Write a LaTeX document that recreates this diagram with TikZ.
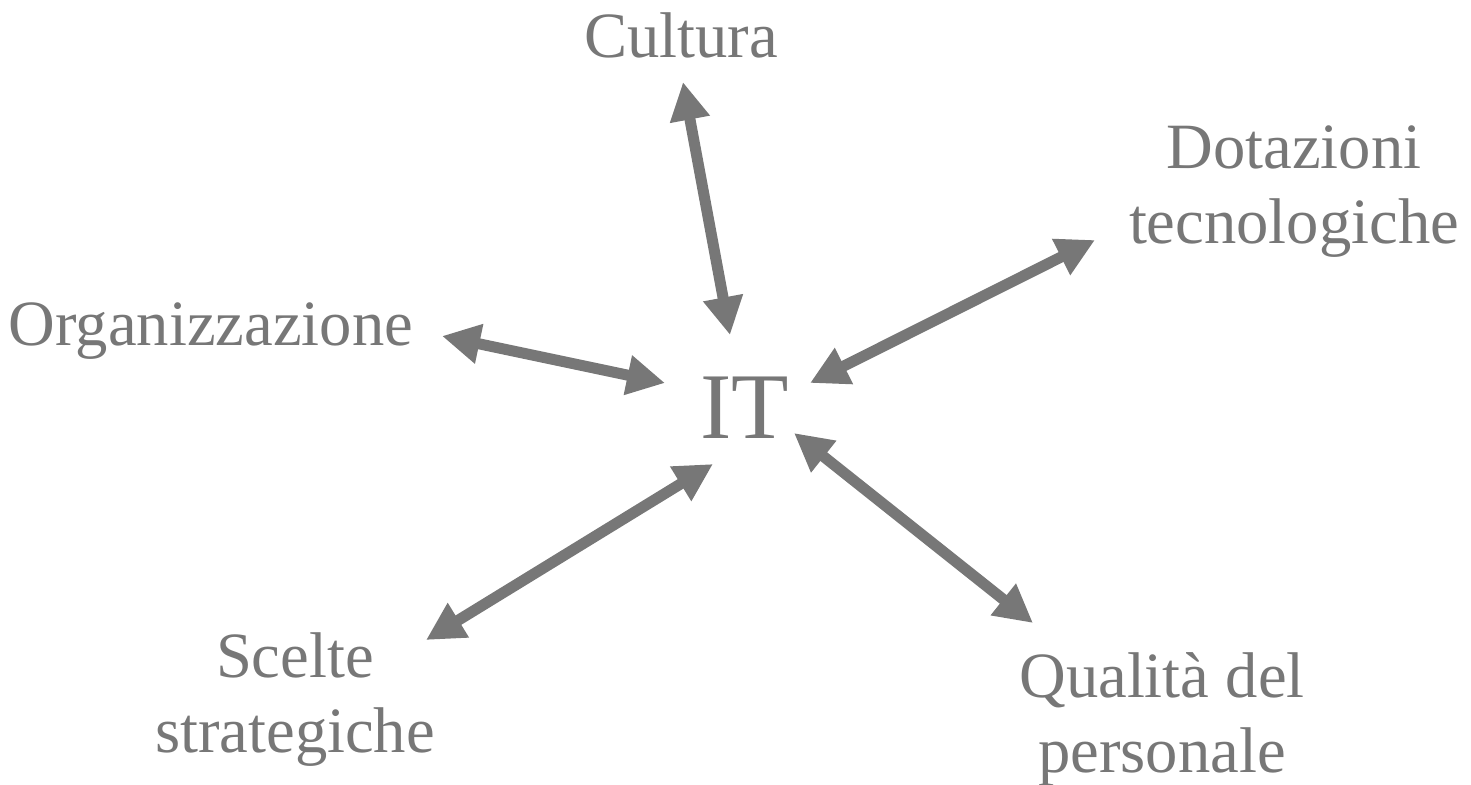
\documentclass[tikz,border=0pt]{standalone}
\usepackage{fontspec}
\setmainfont{Liberation Serif}
\usetikzlibrary{arrows.meta}
\definecolor{ink}{HTML}{777777}
\begin{document}
\begin{tikzpicture}[x=0.5pt,y=-0.5pt,
  lbl/.style={text=ink,inner sep=0pt,align=center,font=\fontsize{32.3}{37.5}\selectfont,anchor=base},
  big/.style={text=ink,inner sep=0pt,font=\fontsize{47}{52}\selectfont,anchor=base},
  link/.style={draw=ink,line width=5.5pt,{Triangle[length=19pt,width=19pt]}-{Triangle[length=19pt,width=19pt]}}]
\useasboundingbox (0,0) rectangle (1471,784);
\node[big] (it) at (745,438) {IT};
\node[lbl] (cul) at (681,57) {Cultura};
\node[lbl] (dot) at (1294,243) {Dotazioni\\tecnologiche};
\node[lbl] (org) at (211,345) {Organizzazione};
\node[lbl] (sce) at (295,752) {Scelte\\strategiche};
\node[lbl] (qua) at (1162,772) {Qualità del\\personale};
\coordinate (c1) at (683,82);   \coordinate (c2) at (730,335);
\coordinate (d1) at (1095,240); \coordinate (d2) at (810,383);
\coordinate (o1) at (442,336);  \coordinate (o2) at (665,383);
\coordinate (s1) at (426,640);  \coordinate (s2) at (713,464);
\coordinate (q1) at (1033,623); \coordinate (q2) at (794,433);
\draw[link] (c1) -- (c2);
\draw[link] (d1) -- (d2);
\draw[link] (o1) -- (o2);
\draw[link] (s1) -- (s2);
\draw[link] (q1) -- (q2);
\end{tikzpicture}
\end{document}
